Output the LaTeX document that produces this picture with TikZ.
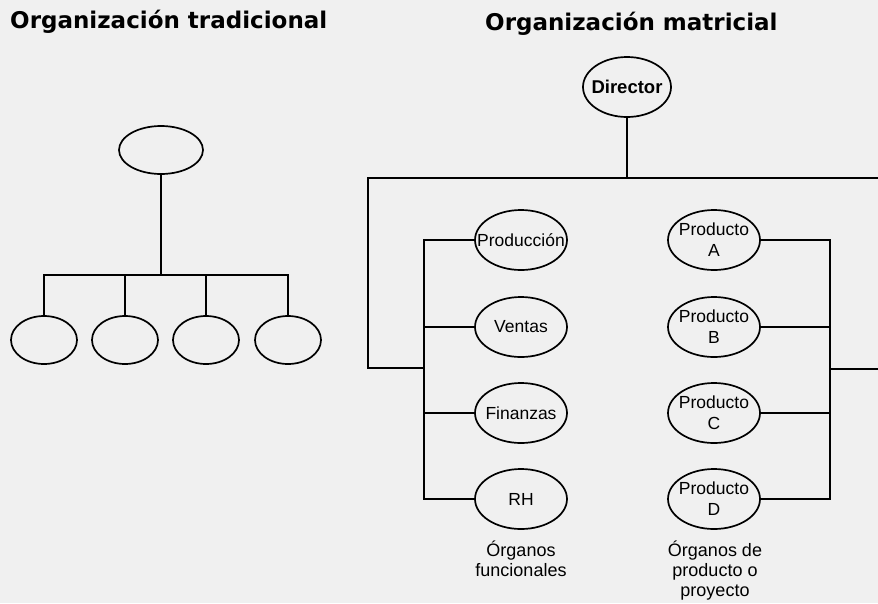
\documentclass[tikz,border=0pt]{standalone}
\usepackage{fontspec}
\setmainfont{Liberation Sans}
\newfontfamily\titlefont{DejaVu Sans}
\usetikzlibrary{shapes.geometric}
\begin{document}
\begin{tikzpicture}[x=1pt,y=-1pt,
  ln/.style={line width=1.7pt},
  ov/.style={ellipse,draw,line width=1.7pt,inner sep=0pt},
  smallov/.style={ov,minimum width=66pt,minimum height=48pt},
  orgov/.style={ov,minimum width=92pt,minimum height=60pt},
  lbl/.style={font=\fontsize{17.5}{21}\selectfont,inner sep=0pt},
  ttl/.style={font=\titlefont\bfseries\fontsize{23}{25}\selectfont,anchor=base west,inner sep=0pt},
  captxt/.style={font=\fontsize{18}{20}\selectfont,align=center,inner sep=0pt}
]
\path[use as bounding box,fill=black!6] (0,0) rectangle (878,603);
% titles
\node[ttl] (t1) at (10,28) {Organización tradicional};
\node[ttl] (t2) at (485,30) {Organización matricial};
% traditional
\node[ov,minimum width=84pt,minimum height=48pt] (top) at (161,150) {};
\node[smallov] (c1) at (44,340) {};
\node[smallov] (c2) at (125,340) {};
\node[smallov] (c3) at (206,340) {};
\node[smallov] (c4) at (288,340) {};
\coordinate (bar) at (161,275);
\draw[ln] (top.south) -- (bar);
\draw[ln] (c1.north) |- (bar) -| (c4.north);
\draw[ln] (c2.north) -- (c2.north |- bar);
\draw[ln] (c3.north) -- (c3.north |- bar);
% matrix
\node[ov,minimum width=88pt,minimum height=60pt] (dir) at (627,87) {};
\node[lbl,font=\fontsize{18.5}{21}\selectfont\bfseries] (dirt) at (dir) {Director};
\node[orgov] (f1) at (521,240) {};
\node[orgov] (f2) at (521,327) {};
\node[orgov] (f3) at (521,413) {};
\node[orgov] (f4) at (521,499) {};
\node[lbl] (f1t) at (f1) {Producción};
\node[lbl] (f2t) at (f2) {Ventas};
\node[lbl] (f3t) at (f3) {Finanzas};
\node[lbl] (f4t) at (f4) {RH};
\node[orgov] (p1) at (714,240) {};
\node[orgov] (p2) at (714,327) {};
\node[orgov] (p3) at (714,413) {};
\node[orgov] (p4) at (714,499) {};
\node[lbl,align=center] (p1t) at (p1) {Producto\\A};
\node[lbl,align=center] (p2t) at (p2) {Producto\\B};
\node[lbl,align=center] (p3t) at (p3) {Producto\\C};
\node[lbl,align=center] (p4t) at (p4) {Producto\\D};
\coordinate (dbar) at (627,178);
\coordinate (lout) at (368,178);
\coordinate (lcorner) at (368,368);
\coordinate (lin) at (424,368);
\coordinate (rin) at (830,369);
\coordinate (rout) at (878,369);
\coordinate (redge) at (878,178);
\draw[ln] (dir.south) -- (dbar);
\draw[ln] (redge) -- (lout) -- (lcorner) -- (lin);
\draw[ln] (f1.west) -- (424,240) -- (424,499) -- (f4.west);
\draw[ln] (f2.west) -- (f2.west -| lin);
\draw[ln] (f3.west) -- (f3.west -| lin);
\draw[ln] (p1.east) -- (830,240) -- (830,499) -- (p4.east);
\draw[ln] (p2.east) -- (p2.east -| rin);
\draw[ln] (p3.east) -- (p3.east -| rin);
\draw[ln] (rin) -- (rout);
% captions
\node[captxt,anchor=north] (cap1) at (521,541) {Órganos\\funcionales};
\node[captxt,anchor=north] (cap2) at (715,541) {Órganos de\\producto o\\proyecto};
\end{tikzpicture}
\end{document}
